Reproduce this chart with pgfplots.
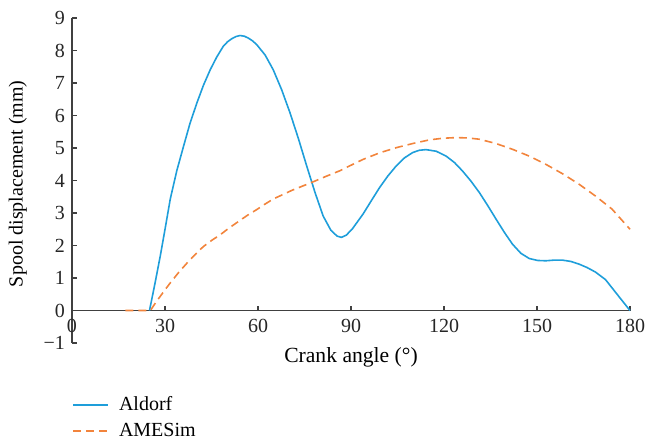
\documentclass[border=0pt]{standalone}
\usepackage{fontspec}
\setmainfont{Liberation Serif}
\usepackage{pgfplots}
\pgfplotsset{compat=1.18}
\usetikzlibrary{calc}
\definecolor{aldorf}{RGB}{30,158,218}
\definecolor{amesim}{RGB}{242,132,60}
\definecolor{axgray}{RGB}{64,64,64}

\begin{document}
\begin{tikzpicture}
\begin{axis}[
  name=ax,
  scale only axis,
  width=279pt, height=162.5pt,
  xmin=0, xmax=180, ymin=-1, ymax=9,
  axis lines=middle,
  axis line style={-, axgray, line width=0.9pt},
  hide obscured x ticks=false,
  hide obscured y ticks=false,
  xtick={0,30,60,90,120,150,180},
  xticklabels={0,30,60,90,120,150,180},
  ytick={-1,0,1,2,3,4,5,6,7,8,9},
  yticklabels={−1,0,1,2,3,4,5,6,7,8,9},
  tick align=inside,
  major tick length=2.5pt,
  tick style={axgray, line width=0.7pt},
  ticklabel style={font=\fontsize{10}{12}\selectfont, text=black!85},
  xticklabel style={yshift=-1pt},
  xlabel={Crank angle (°)},
  ylabel={Spool displacement (mm)},
  xlabel style={at={(axis description cs:0.5,0)}, anchor=center, yshift=-7pt, font=\fontsize{10.8}{12}\selectfont},
  ylabel style={at={(axis description cs:-0.097,0.49)}, anchor=center, rotate=90, font=\fontsize{10}{12}\selectfont},
  clip=false,
  legend style={at={(axis description cs:0,-0.15)}, anchor=north west, draw=none, fill=none,
    inner sep=0pt, row sep=0.8pt, font=\fontsize{10}{12}\selectfont},
  legend cell align=left,
  legend image code/.code={\draw[#1] (0pt,0pt) -- (17.5pt,0pt); \path (20.5pt,0pt);},
]
\addplot[aldorf, line width=0.8pt] coordinates {
  (25,0) (26.8,0.85) (28.5,1.69) (30.1,2.55) (31.7,3.43) (33.8,4.3) (36,5.06)
  (38.1,5.77) (40.3,6.39) (42.4,6.93) (44.6,7.41) (46.7,7.8) (48.8,8.13)
  (50.2,8.27) (51.5,8.36) (52.9,8.43) (54.2,8.46) (55.6,8.44) (56.9,8.38)
  (58.2,8.3) (59.6,8.18)
  (62.3,7.86) (64.9,7.41) (67.6,6.8) (70.3,6.09) (73,5.3) (75.7,4.45)
  (78.4,3.63) (81,2.91) (83.5,2.47) (85.5,2.29) (86.9,2.25) (88.5,2.32)
  (90.5,2.52) (93.9,2.97) (96.5,3.37) (99.2,3.78) (101.9,4.14) (104.6,4.45)
  (107.3,4.7) (109.9,4.86) (112,4.93) (114.2,4.95) (117.5,4.9) (120.7,4.75)
  (123.4,4.55) (126,4.29) (128.7,3.98) (131.4,3.63) (134.1,3.23) (136.8,2.81)
  (139.5,2.4) (142.1,2.04) (144.8,1.76) (147.5,1.6) (150.2,1.54) (152.8,1.53)
  (155.5,1.55) (158.2,1.55) (160.9,1.51) (163.5,1.43) (166.2,1.32) (168.9,1.18)
  (172.1,0.95) (176,0.48) (180,0)
};
\addlegendentry{Aldorf}
\addplot[amesim, line width=0.8pt, dash pattern=on 4pt off 2.5pt] coordinates {
  (17.2,0) (25.3,0) (26.9,0.23) (28.5,0.44) (30.1,0.65) (31.7,0.85) (34.4,1.17)
  (37.1,1.46) (39.8,1.73) (42.4,1.97) (45.1,2.16) (47.8,2.33) (50.7,2.54)
  (53.7,2.74) (56.6,2.93) (59.5,3.1) (62.2,3.27) (64.9,3.43) (71,3.7) (77.3,3.94)
  (82,4.13) (86.4,4.3) (90,4.47) (93.9,4.65) (99.2,4.85) (104.6,5.01)
  (110,5.14) (115.3,5.25) (119.6,5.3) (123.9,5.32) (127.6,5.31) (131.4,5.27)
  (136.7,5.14) (142.1,4.96) (147.5,4.75) (152.8,4.5) (158.2,4.21)
  (163.5,3.89) (168.9,3.52) (174.2,3.12) (178.5,2.66) (180,2.5)
};
\addlegendentry{AMESim}
\end{axis}
\pgfresetboundingbox
\path ($(ax.south west)+(-36pt,-49pt)$) rectangle ($(ax.north east)+(8pt,9pt)$);
\end{tikzpicture}
\end{document}
